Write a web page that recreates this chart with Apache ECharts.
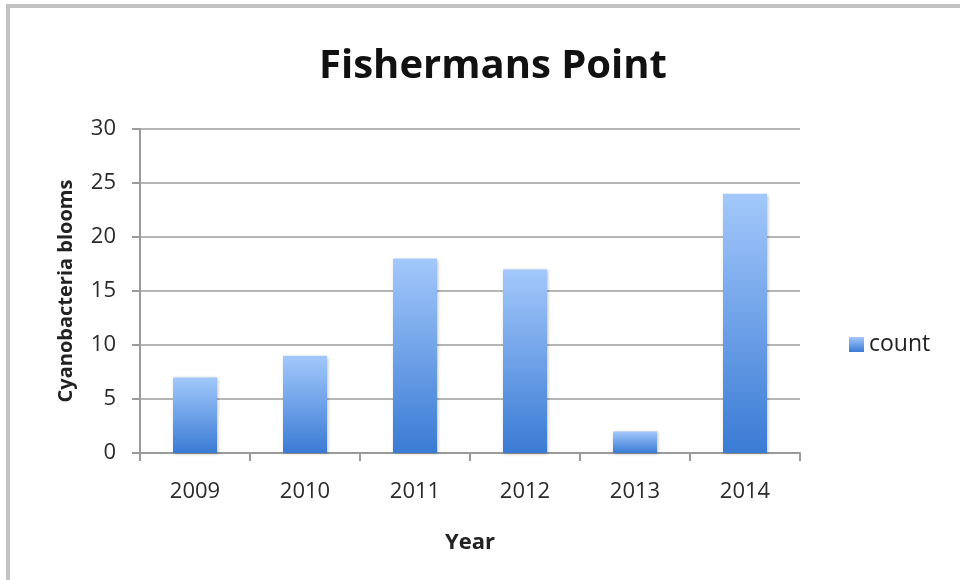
<!DOCTYPE html>
<html>
<head>
<meta charset="utf-8">
<script src="https://cdn.jsdelivr.net/npm/echarts@6/dist/echarts.min.js"></script>
<style>
  html, body { margin: 0; padding: 0; background: #fff; }
  #chart { width: 960px; height: 580px; }
</style>
</head>
<body>
<div id="chart"></div>
<script>
// Yearly cyanobacteria bloom counts at Fishermans Point
const years = ['2009', '2010', '2011', '2012', '2013', '2014'];
const counts = [7, 9, 18, 17, 2, 24];
const seriesName = 'count';

const FONT = '"Open Sans", "Noto Sans", sans-serif';

const barFill = new echarts.graphic.LinearGradient(0, 0, 0, 1, [
  { offset: 0, color: '#a3c8fb' },
  { offset: 1, color: '#3a7bd4' }
]);

const chart = echarts.init(document.getElementById('chart'), null, { renderer: 'canvas' });

chart.setOption({
  animation: false,
  backgroundColor: '#ffffff',
  graphic: [
    {
      type: 'polyline',
      shape: { points: [[8, 580], [8, 6], [960, 6]] },
      style: { stroke: '#c2c2c2', lineWidth: 4, fill: null }
    }
  ],
  title: {
    text: 'Fishermans Point',
    left: 488,
    textAlign: 'center',
    top: 42,
    textStyle: { fontFamily: FONT, fontWeight: 'bold', fontSize: 40, color: '#111' }
  },
  legend: {
    data: [seriesName],
    left: 849,
    top: 333,
    padding: 0,
    itemWidth: 15,
    itemHeight: 15,
    itemGap: 4,
    icon: 'rect',
    textStyle: { fontFamily: FONT, fontSize: 23, color: '#222', padding: [0, 0, 0, 0] }
  },
  grid: { left: 140, right: 160, top: 129, bottom: 127 },
  xAxis: {
    type: 'category',
    data: years,
    name: 'Year',
    nameLocation: 'middle',
    nameGap: 79,
    nameTextStyle: { fontFamily: FONT, fontWeight: 'bold', fontSize: 22, color: '#222' },
    axisLine: { lineStyle: { color: '#9a9a9a', width: 2 } },
    axisTick: { show: true, length: 8, lineStyle: { color: '#9a9a9a', width: 2 } },
    axisLabel: { fontFamily: FONT, fontSize: 22, color: '#2a2a2a', margin: 28 }
  },
  yAxis: {
    type: 'value',
    min: 0,
    max: 30,
    interval: 5,
    name: 'Cyanobacteria blooms',
    nameLocation: 'middle',
    nameGap: 64,
    nameTextStyle: { fontFamily: FONT, fontWeight: 'bold', fontSize: 20, color: '#222' },
    axisLine: { show: true, lineStyle: { color: '#9a9a9a', width: 2 } },
    axisTick: { show: true, length: 8, lineStyle: { color: '#9a9a9a', width: 2 } },
    splitLine: { lineStyle: { color: '#b5b5b5', width: 2 } },
    axisLabel: { fontFamily: FONT, fontSize: 22, color: '#2a2a2a', margin: 24 }
  },
  series: [
    {
      name: seriesName,
      type: 'bar',
      data: counts,
      barCategoryGap: '60%',
      itemStyle: {
        color: barFill,
        shadowColor: 'rgba(0,0,0,0.25)',
        shadowBlur: 3,
        shadowOffsetX: 1,
        shadowOffsetY: 1
      }
    }
  ]
});
</script>
</body>
</html>
